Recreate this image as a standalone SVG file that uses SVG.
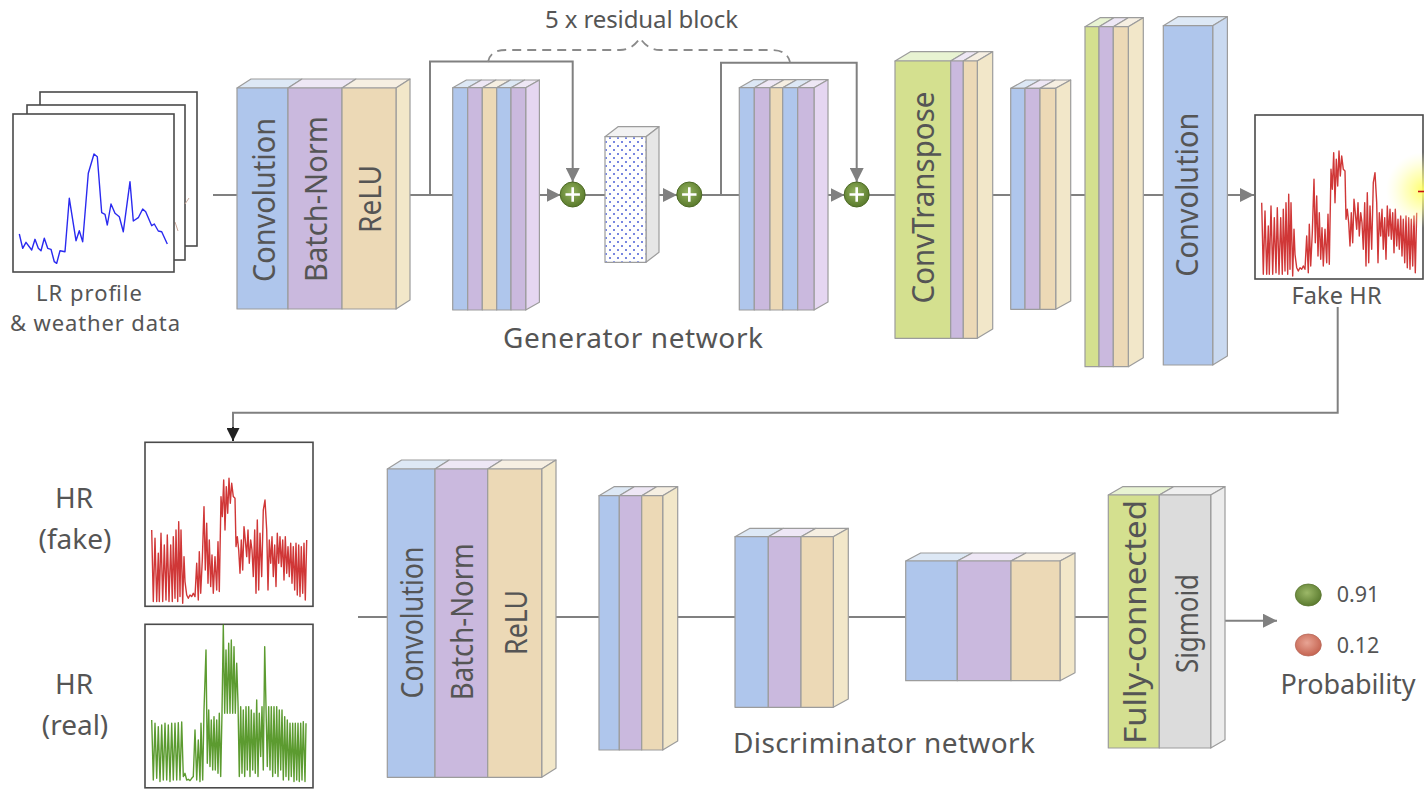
<svg xmlns="http://www.w3.org/2000/svg" width="1424" height="789" viewBox="0 0 1424 789">
  <style>
    .lbl { font-family: "Noto Sans", "Open Sans", "DejaVu Sans", sans-serif; fill: #555; }
    .vl { font-family: "Noto Sans", "Open Sans", "DejaVu Sans", sans-serif; fill: #555; font-size: 31px; text-anchor: middle; dominant-baseline: central; }
    .edge { fill: none; stroke: #808080; stroke-width: 2; }
    .face { stroke: #9c9c9c; stroke-width: 1.2; stroke-linejoin: round; }
    .blue { fill: #afc6ec; } .blueT { fill: #dde8f5; }
    .purp { fill: #cab9de; } .purpT { fill: #eee7f5; }
    .tan { fill: #ecd9b6; } .tanT { fill: #f6efe2; }
    .grn { fill: #d4e08f; } .grnT { fill: #e8f3d2; }
    .gry { fill: #dcdcdc; } .gryT { fill: #efefef; }
    .cream { fill: #f2e7c9; }
    .lav { fill: #e5d6f1; }
    .bside { fill: #c9d9f0; }
    .frame { fill: #fff; stroke: #4a4a4a; stroke-width: 1.6; }
    .plus { fill: url(#plusGrad); stroke: #4c6a24; stroke-width: 1; }
    .pbar { stroke: #fff; stroke-width: 2.6; }
  </style>
  <defs>
    <marker id="arr" viewBox="0 0 10 10" refX="10" refY="5" markerWidth="7" markerHeight="7" orient="auto" markerUnits="strokeWidth">
      <path d="M0,0 L10,5 L0,10 Z" fill="#808080"/>
    </marker>
    <marker id="arrDark" viewBox="0 0 10 10" refX="10" refY="5" markerWidth="6.5" markerHeight="6.5" orient="auto" markerUnits="strokeWidth">
      <path d="M0,0 L10,5 L0,10 Z" fill="#222"/>
    </marker>
    <radialGradient id="plusGrad" cx="0.45" cy="0.4" r="0.6">
      <stop offset="0" stop-color="#93b35e"/>
      <stop offset="1" stop-color="#5a7a2c"/>
    </radialGradient>
    <radialGradient id="ballG" cx="0.45" cy="0.4" r="0.6">
      <stop offset="0" stop-color="#9cb868"/>
      <stop offset="1" stop-color="#5b7b2f"/>
    </radialGradient>
    <radialGradient id="ballR" cx="0.45" cy="0.4" r="0.6">
      <stop offset="0" stop-color="#e8a494"/>
      <stop offset="1" stop-color="#c56451"/>
    </radialGradient>
    <radialGradient id="glow" cx="0.5" cy="0.5" r="0.5">
      <stop offset="0" stop-color="#ffff60" stop-opacity="0.95"/>
      <stop offset="0.5" stop-color="#ffff90" stop-opacity="0.55"/>
      <stop offset="1" stop-color="#ffffc0" stop-opacity="0"/>
    </radialGradient>
    <pattern id="dots" width="8" height="8" patternUnits="userSpaceOnUse">
      <circle cx="2" cy="2" r="1" fill="#4a5fd6"/>
      <circle cx="6" cy="6" r="1" fill="#4a5fd6"/>
    </pattern>
    <!-- signal traces, drawn in a 168x164 frame -->
    <polyline id="fakeSig" fill="none" stroke="#c81414" stroke-width="1.4" stroke-opacity="0.85" stroke-linejoin="round"
      points="6.7,87.7 8.3,159.3 10,96 11.7,159.3 13.3,111 14.3,159.3 16,91 17.7,159.3 19.3,102.7 21,157.7 22.3,92.7 24,159.3 25.7,102.7 27.3,159.3 28.3,94.3 30,156 31,87.7 32.7,159.3 33.7,79.3 35,154.3 36,87.7 37.7,161 39,114.3 40,139.3 41.7,152.7 43.3,156 45,152.7 46.7,154.3 48.3,151 50,154.3 51.7,121 53.3,157.7 54.3,109.3 55.7,151 57.3,117.7 59,64.3 60.3,127.7 61.7,81 63,141 64.3,97.7 65.7,144.3 67,112.7 68.3,151 70,114.3 71.7,147.7 73,99.3 74.3,149.3 76,54.3 77.3,74.3 78.7,37.7 80,87.7 81.3,44.3 82.7,71 84,36 85.3,61 86.7,41 88.3,54.3 90,56 91,104.3 92.3,94.3 93.7,107.7 95,131 96.3,97.7 97.7,127.7 99,84.3 100.3,97.7 101.7,114.3 103,87.7 104.3,121 105.7,97.7 107,107.7 108.3,134.3 109.7,87.7 111,151 112.3,77.7 113.7,147.7 115,91 116.7,134.3 118.3,67.7 120,57.7 121.7,87.7 123,147.7 124.3,97.7 125.7,121 127,94.3 128.3,134.3 129.7,102.7 131,144.3 132.3,91 133.7,121 135,94.3 136.3,124.3 137.7,97.7 139,137.7 140.3,94.3 141.7,131 143,104.3 144.3,134.3 145.7,101 147,141 148.3,104.3 149.7,147.7 151,101 152.3,152.7 153.7,102.7 155,154.3 156.3,104.3 157.7,151 159,101 160.3,157.7 161.7,97.7"/>
    <polyline id="realSig" fill="none" stroke="#3f8a0c" stroke-width="1.4" stroke-opacity="0.85" stroke-linejoin="round"
      points="6.7,95.7 8.3,155.7 10,99 11.7,154 13.3,102.3 15,157.3 16.7,100.7 18.3,155.7 20,99 21.7,155.7 23.3,100.7 25,157.3 26.7,99 28.3,155.7 30,99 31.7,155.7 33.3,98.3 35,155.7 36.7,97.7 38.3,152.3 40,149 41.7,155.7 43.3,155 45,156.3 46.7,154 48.3,152.3 50,105.7 51.7,155.7 53.3,115.7 55,157.3 56,99 57.7,155.7 59,85.7 61,25.7 62.3,139 63.7,85.7 65,142.3 66.3,95.7 67.7,145.7 69,92.3 70.3,145.7 71.7,95.7 73,149 74.3,89 75.7,152.3 77,89 78.3,0.7 79.7,89 81,25.7 82.3,89 83.7,19 85,89 86.3,15.7 87.7,89 89,22.3 90.3,89 91.7,39 93,79 94.3,152.3 95.7,82.3 97,149 98.3,85.7 99.7,152.3 101,82.3 102.3,145.7 103.7,82.3 105,152.3 106.3,85.7 107.7,145.7 109,89 110.3,149 111.7,75.7 113,152.3 114.3,89 115.7,132.3 117,82.3 118.3,145.7 119.7,22.3 121,82.3 122.3,142.3 123.7,82.3 125,145.7 126.3,82.3 127.7,152.3 129,82.3 130.3,149 131.7,82.3 133,152.3 134.3,85.7 135.7,145.7 137,85.7 138.3,155.7 139.7,92.3 141,152.3 142.3,95.7 143.7,155.7 145,99 146.3,152.3 147.7,99 149,157.3 150.3,99 151.7,155.7 153,99 154.3,157.3 155.7,99 157,155.7 158.3,97.3 160,157.3 161,99"/>
  </defs>

  <rect width="1424" height="789" fill="#fff"/>

  <!-- connectors -->
  <g id="connectors">
    <path class="edge" d="M213,195 H237"/>
    <path class="edge" d="M404,195 H453"/>
    <path class="edge" d="M430,195 V61.5 H572.7 V182" marker-end="url(#arr)"/>
    <path class="edge" d="M534,195 H560.5" marker-end="url(#arr)"/>
    <path class="edge" d="M584.7,195 H605"/>
    <path class="edge" d="M651,195 H677" marker-end="url(#arr)"/>
    <path class="edge" d="M701,195 H739.3"/>
    <path class="edge" d="M721,195 V62.7 H856.7 V182" marker-end="url(#arr)"/>
    <path class="edge" d="M818,195 H844.5" marker-end="url(#arr)"/>
    <path class="edge" d="M868.7,195 H895"/>
    <path class="edge" d="M986,195 H1010.7"/>
    <path class="edge" d="M1062.7,195 H1085"/>
    <path class="edge" d="M1143.3,195 H1163.3"/>
    <path class="edge" d="M1219,195 H1254" marker-end="url(#arr)"/>
    <path class="edge" d="M1337.7,307 V412.7 H233 V428" stroke="#7a7a7a"/>
    <path d="M233,427 V441" fill="none" stroke="#222" stroke-width="2" marker-end="url(#arrDark)"/>
    <path class="edge" d="M358,617 H387.3"/>
    <path class="edge" d="M550,617 H599"/>
    <path class="edge" d="M675,617 H735"/>
    <path class="edge" d="M848.3,617 H905.7"/>
    <path class="edge" d="M1067.3,617 H1108.3"/>
    <path class="edge" d="M1218,620.7 H1277" marker-end="url(#arr)"/>
    <!-- dashed brace over the residual blocks -->
    <path d="M488,62 Q490,50 506,50 L620,50 Q632,50 640,38 Q648,50 660,50 L772,50 Q787,50 790,62" fill="none" stroke="#8a8a8a" stroke-width="1.8" stroke-dasharray="9,6"/>
  </g>

  <!-- input stack -->
  <g id="input">
    <rect class="frame" x="40" y="92" width="157" height="154"/>
    <rect class="frame" x="27" y="105" width="158" height="155"/>
    <path d="M175,222 L178,231 M185,204 L189,198" stroke="#c9a89a" stroke-width="1" fill="none"/>
    <rect class="frame" x="13" y="114" width="161" height="158"/>
    <polyline fill="none" stroke="#2a2af0" stroke-width="1.4" stroke-linejoin="round"
      points="19.3,234 22.7,248.3 26,242.3 31.7,250 35,239.3 38.3,248.3 41,250.7 44.3,238.3 47.7,248.3 51,249.3 54.3,261.7 56.7,263.3 60,250.7 65,251.7 69.3,198.3 76,240.7 79.3,230.7 82.7,241.7 88.3,173.3 94,154 97.3,156.7 101.7,212.7 105,214.3 107.3,225 111,204 115,213.3 119.3,216.7 123.3,231.7 130,181.7 133.3,221 138.3,217.7 142.7,209 145.7,211.7 151.7,225.7 154.3,224 158.3,231 161.7,231.7 167.3,244"/>
    <text class="lbl" x="89" y="301" font-size="22" text-anchor="middle" textLength="106">LR profile</text>
    <text class="lbl" x="95" y="331" font-size="22" text-anchor="middle" textLength="170">&amp; weather data</text>
  </g>

  <!-- generator: conv / batch-norm / relu -->
  <g id="gen-head">
    <polygon class="face blueT" points="237,88 251,79 302,79 288,88"/>
    <polygon class="face purpT" points="288,88 302,79 356,79 342,88"/>
    <polygon class="face tanT" points="342,88 356,79 410,79 396,88"/>
    <polygon class="face cream" points="396,88 410,79 410,300 396,309"/>
    <rect class="face blue" x="237" y="88" width="51" height="221"/>
    <rect class="face purp" x="288" y="88" width="54" height="221"/>
    <rect class="face tan" x="342" y="88" width="54" height="221"/>
    <text class="vl" transform="translate(262.5,200) rotate(-90)" textLength="164" lengthAdjust="spacingAndGlyphs">Convolution</text>
    <text class="vl" transform="translate(315,199) rotate(-90)" textLength="166" lengthAdjust="spacingAndGlyphs">Batch-Norm</text>
    <text class="vl" transform="translate(369,199) rotate(-90)" textLength="68" lengthAdjust="spacingAndGlyphs">ReLU</text>
  </g>

  <!-- residual block A -->
  <g id="res-a">
    <polygon class="face blueT" points="452.7,87.7 466.4,80 481.4,80 467.7,87.7"/>
    <polygon class="face purpT" points="467.7,87.7 481.4,80 496,80 482.3,87.7"/>
    <polygon class="face tanT" points="482.3,87.7 496,80 510.4,80 496.7,87.7"/>
    <polygon class="face blueT" points="496.7,87.7 510.4,80 524.7,80 511,87.7"/>
    <polygon class="face purpT" points="511,87.7 524.7,80 539.4,80 525.7,87.7"/>
    <polygon class="face lav" points="525.7,87.7 539.4,80 539.4,302.3 525.7,310"/>
    <rect class="face blue" x="452.7" y="87.7" width="15" height="222.3"/>
    <rect class="face purp" x="467.7" y="87.7" width="14.6" height="222.3"/>
    <rect class="face tan" x="482.3" y="87.7" width="14.4" height="222.3"/>
    <rect class="face blue" x="496.7" y="87.7" width="14.3" height="222.3"/>
    <rect class="face purp" x="511" y="87.7" width="14.7" height="222.3"/>
  </g>

  <g id="add-1">
    <circle class="plus" cx="572.7" cy="194.5" r="12.5"/>
    <path class="pbar" d="M565.5,194.5 H579.9 M572.7,187.3 V201.7"/>
  </g>

  <!-- dotted feature block -->
  <g id="dotted">
    <polygon class="face" fill="#f2f2f2" points="605,136.7 618,126.7 659,126.7 646,136.7"/>
    <polygon class="face" fill="#e6e6e6" points="646,136.7 659,126.7 659,252.3 646,262.3"/>
    <rect class="face" fill="#fff" x="605" y="136.7" width="41" height="125.6"/>
    <rect x="605.6" y="137.3" width="39.8" height="124.4" fill="url(#dots)"/>
  </g>

  <g id="add-2">
    <circle class="plus" cx="689.3" cy="194.5" r="12.5"/>
    <path class="pbar" d="M682.1,194.5 H696.5 M689.3,187.3 V201.7"/>
  </g>

  <!-- residual block B -->
  <g id="res-b">
    <polygon class="face blueT" points="739.3,87.7 753.3,79.7 768.3,79.7 754.3,87.7"/>
    <polygon class="face purpT" points="754.3,87.7 768.3,79.7 784,79.7 770,87.7"/>
    <polygon class="face tanT" points="770,87.7 784,79.7 796.7,79.7 782.7,87.7"/>
    <polygon class="face blueT" points="782.7,87.7 796.7,79.7 811.7,79.7 797.7,87.7"/>
    <polygon class="face purpT" points="797.7,87.7 811.7,79.7 828,79.7 814,87.7"/>
    <polygon class="face lav" points="814,87.7 828,79.7 828,302 814,310"/>
    <rect class="face blue" x="739.3" y="87.7" width="15" height="222.3"/>
    <rect class="face purp" x="754.3" y="87.7" width="15.7" height="222.3"/>
    <rect class="face tan" x="770" y="87.7" width="12.7" height="222.3"/>
    <rect class="face blue" x="782.7" y="87.7" width="15" height="222.3"/>
    <rect class="face purp" x="797.7" y="87.7" width="16.3" height="222.3"/>
  </g>

  <g id="add-3">
    <circle class="plus" cx="856.7" cy="194.5" r="12.5"/>
    <path class="pbar" d="M849.5,194.5 H863.9 M856.7,187.3 V201.7"/>
  </g>

  <!-- transposed convolution -->
  <g id="conv-transpose">
    <polygon class="face grnT" points="895,61 910.4,51.7 966.1,51.7 950.7,61"/>
    <polygon class="face purpT" points="950.7,61 966.1,51.7 978.7,51.7 963.3,61"/>
    <polygon class="face tanT" points="963.3,61 978.7,51.7 992.7,51.7 977.3,61"/>
    <polygon class="face cream" points="977.3,61 992.7,51.7 992.7,329 977.3,338.3"/>
    <rect class="face grn" x="895" y="61" width="55.7" height="277.3"/>
    <rect class="face purp" x="950.7" y="61" width="12.6" height="277.3"/>
    <rect class="face tan" x="963.3" y="61" width="14" height="277.3"/>
    <text class="vl" transform="translate(922,197.5) rotate(-90)" textLength="212" lengthAdjust="spacingAndGlyphs">ConvTranspose</text>
  </g>

  <g id="gen-mid">
    <polygon class="face blueT" points="1010.7,88.3 1025.7,80 1040,80 1025,88.3"/>
    <polygon class="face purpT" points="1025,88.3 1040,80 1055,80 1040,88.3"/>
    <polygon class="face tanT" points="1040,88.3 1055,80 1070.7,80 1055.7,88.3"/>
    <polygon class="face cream" points="1055.7,88.3 1070.7,80 1070.7,301 1055.7,309.3"/>
    <rect class="face blue" x="1010.7" y="88.3" width="14.3" height="221"/>
    <rect class="face purp" x="1025" y="88.3" width="15" height="221"/>
    <rect class="face tan" x="1040" y="88.3" width="15.7" height="221"/>
  </g>

  <g id="gen-tall">
    <polygon class="face grnT" points="1085,26.7 1100,17.7 1114,17.7 1099,26.7"/>
    <polygon class="face purpT" points="1099,26.7 1114,17.7 1128.3,17.7 1113.3,26.7"/>
    <polygon class="face tanT" points="1113.3,26.7 1128.3,17.7 1143.3,17.7 1128.3,26.7"/>
    <polygon class="face cream" points="1128.3,26.7 1143.3,17.7 1143.3,357.7 1128.3,366.7"/>
    <rect class="face grn" x="1085" y="26.7" width="14" height="340"/>
    <rect class="face purp" x="1099" y="26.7" width="14.3" height="340"/>
    <rect class="face tan" x="1113.3" y="26.7" width="15" height="340"/>
  </g>

  <g id="gen-out">
    <polygon class="face blueT" points="1163.3,25.7 1178,16.7 1227.4,16.7 1212.7,25.7"/>
    <polygon class="face bside" points="1212.7,25.7 1227.4,16.7 1227.4,356 1212.7,365"/>
    <rect class="face blue" x="1163.3" y="25.7" width="49.4" height="339.3"/>
    <text class="vl" transform="translate(1186,194.7) rotate(-90)" textLength="164" lengthAdjust="spacingAndGlyphs">Convolution</text>
  </g>

  <!-- generator output -->
  <g id="fake-hr">
    <rect class="frame" x="1255" y="115" width="168" height="164"/>
    <use href="#fakeSig" transform="translate(1255,115)"/>
    <circle cx="1424" cy="190" r="38" fill="url(#glow)"/>
    <path d="M1418,191.5 H1424" stroke="#c81414" stroke-width="1.6"/>
    <text class="lbl" x="1336.5" y="304" font-size="23.5" text-anchor="middle" textLength="90">Fake HR</text>
  </g>

  <text class="lbl" x="641.5" y="28" font-size="24" text-anchor="middle" textLength="193">5 x residual block</text>
  <text class="lbl" x="633" y="348" font-size="28" text-anchor="middle" textLength="260">Generator network</text>

  <!-- discriminator inputs -->
  <g id="hr-fake">
    <rect class="frame" x="145" y="442.3" width="168" height="164"/>
    <use href="#fakeSig" transform="translate(145,442.3)"/>
    <text class="lbl" x="74" y="508" font-size="28" text-anchor="middle">HR</text>
    <text class="lbl" x="75" y="549" font-size="28" text-anchor="middle">(fake)</text>
  </g>
  <g id="hr-real">
    <rect class="frame" x="145" y="624.3" width="168" height="163.5"/>
    <use href="#realSig" transform="translate(145,624.3)"/>
    <text class="lbl" x="74" y="694" font-size="28" text-anchor="middle">HR</text>
    <text class="lbl" x="75" y="735" font-size="28" text-anchor="middle">(real)</text>
  </g>

  <!-- discriminator layers -->
  <g id="disc-head">
    <polygon class="face blueT" points="387.3,469 401.6,460 449.3,460 435,469"/>
    <polygon class="face purpT" points="435,469 449.3,460 502,460 487.7,469"/>
    <polygon class="face tanT" points="487.7,469 502,460 556,460 541.7,469"/>
    <polygon class="face cream" points="541.7,469 556,460 556,768.3 541.7,777.3"/>
    <rect class="face blue" x="387.3" y="469" width="47.7" height="308.3"/>
    <rect class="face purp" x="435" y="469" width="52.7" height="308.3"/>
    <rect class="face tan" x="487.7" y="469" width="54" height="308.3"/>
    <text class="vl" transform="translate(411,622.5) rotate(-90)" textLength="152" lengthAdjust="spacingAndGlyphs">Convolution</text>
    <text class="vl" transform="translate(461,621.7) rotate(-90)" textLength="157" lengthAdjust="spacingAndGlyphs">Batch-Norm</text>
    <text class="vl" transform="translate(514.7,622.5) rotate(-90)" textLength="65" lengthAdjust="spacingAndGlyphs">ReLU</text>
  </g>

  <g id="disc-2">
    <polygon class="face blueT" points="599,495.7 614,486.7 634.3,486.7 619.3,495.7"/>
    <polygon class="face purpT" points="619.3,495.7 634.3,486.7 656.7,486.7 641.7,495.7"/>
    <polygon class="face tanT" points="641.7,495.7 656.7,486.7 677.7,486.7 662.7,495.7"/>
    <polygon class="face cream" points="662.7,495.7 677.7,486.7 677.7,741 662.7,750"/>
    <rect class="face blue" x="599" y="495.7" width="20.3" height="254.3"/>
    <rect class="face purp" x="619.3" y="495.7" width="22.4" height="254.3"/>
    <rect class="face tan" x="641.7" y="495.7" width="21" height="254.3"/>
  </g>

  <g id="disc-3">
    <polygon class="face blueT" points="735,536.7 750,528.3 783.3,528.3 768.3,536.7"/>
    <polygon class="face purpT" points="768.3,536.7 783.3,528.3 816,528.3 801,536.7"/>
    <polygon class="face tanT" points="801,536.7 816,528.3 848.3,528.3 833.3,536.7"/>
    <polygon class="face cream" points="833.3,536.7 848.3,528.3 848.3,698.9 833.3,707.3"/>
    <rect class="face blue" x="735" y="536.7" width="33.3" height="170.6"/>
    <rect class="face purp" x="768.3" y="536.7" width="32.7" height="170.6"/>
    <rect class="face tan" x="801" y="536.7" width="32.3" height="170.6"/>
  </g>

  <g id="disc-4">
    <polygon class="face blueT" points="905.7,561 920.7,553 972.3,553 957.3,561"/>
    <polygon class="face purpT" points="957.3,561 972.3,553 1026,553 1011,561"/>
    <polygon class="face tanT" points="1011,561 1026,553 1075,553 1060,561"/>
    <polygon class="face cream" points="1060,561 1075,553 1075,672.7 1060,680.7"/>
    <rect class="face blue" x="905.7" y="561" width="51.6" height="119.7"/>
    <rect class="face purp" x="957.3" y="561" width="53.7" height="119.7"/>
    <rect class="face tan" x="1011" y="561" width="49" height="119.7"/>
  </g>

  <g id="disc-out">
    <polygon class="face grnT" points="1108.3,495 1122.6,486.7 1173.6,486.7 1159.3,495"/>
    <polygon class="face gryT" points="1159.3,495 1173.6,486.7 1225,486.7 1210.7,495"/>
    <polygon class="face" fill="#ececec" points="1210.7,495 1225,486.7 1225,739.7 1210.7,748"/>
    <rect class="face grn" x="1108.3" y="495" width="51" height="253"/>
    <rect class="face gry" x="1159.3" y="495" width="51.4" height="253"/>
    <text class="vl" transform="translate(1134,622) rotate(-90)" textLength="244" lengthAdjust="spacingAndGlyphs">Fully-connected</text>
    <text class="vl" transform="translate(1186,623.5) rotate(-90)" textLength="99" lengthAdjust="spacingAndGlyphs">Sigmoid</text>
  </g>

  <text class="lbl" x="884" y="753" font-size="28" text-anchor="middle" textLength="302">Discriminator network</text>

  <!-- output probabilities -->
  <g id="probability">
    <ellipse cx="1308.3" cy="595" rx="13" ry="11" fill="url(#ballG)" stroke="#5a7530" stroke-width="0.8"/>
    <ellipse cx="1308.3" cy="645" rx="13" ry="11" fill="url(#ballR)" stroke="#b86a5a" stroke-width="0.8"/>
    <text class="lbl" x="1336.7" y="602" font-size="21.5">0.91</text>
    <text class="lbl" x="1336.7" y="653" font-size="21.5">0.12</text>
    <text class="lbl" x="1348" y="694" font-size="27" text-anchor="middle" textLength="135">Probability</text>
  </g>
</svg>
